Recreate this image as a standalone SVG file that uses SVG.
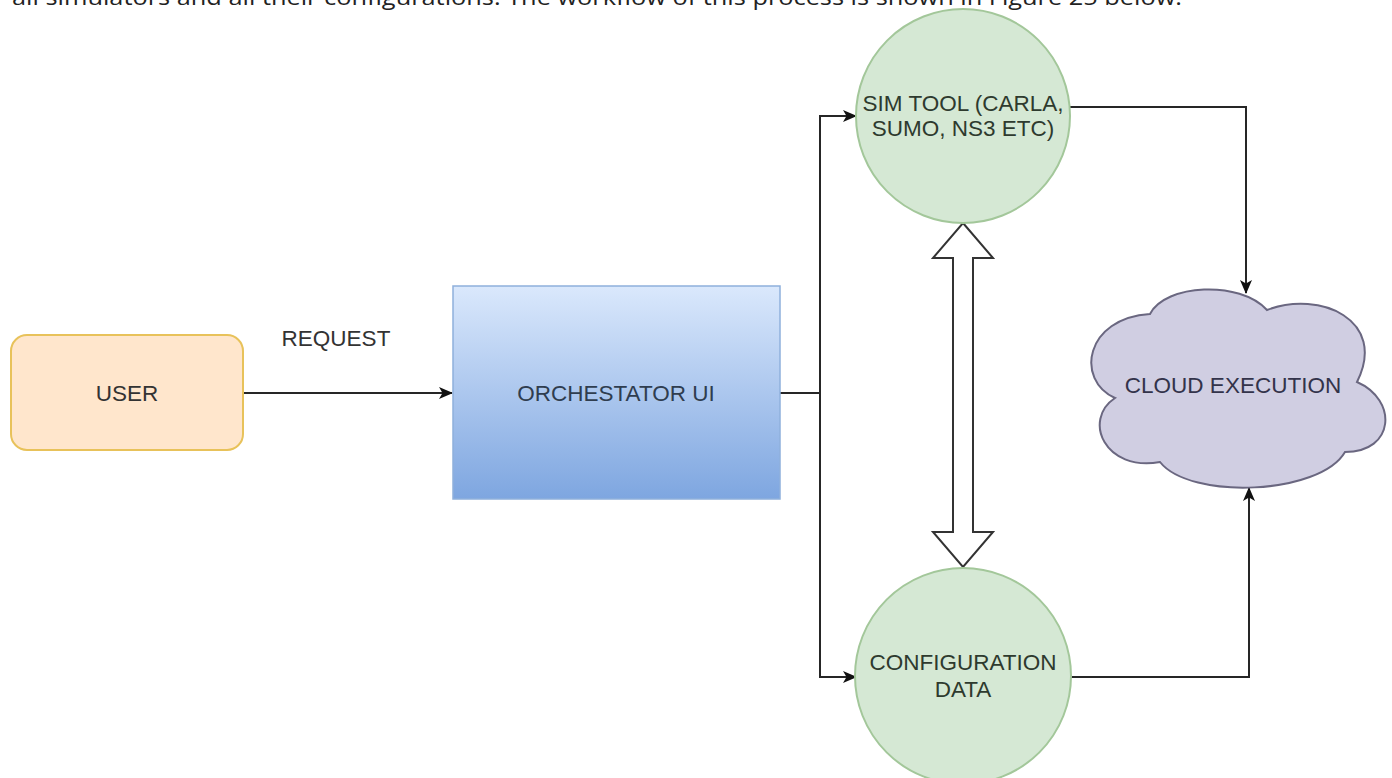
<svg xmlns="http://www.w3.org/2000/svg" width="1392" height="778" viewBox="0 0 1392 778">
  <style>
    .lbl { font-family: "Liberation Sans", Arial, Helvetica, sans-serif; font-size: 22.5px; fill: #333333; text-anchor: middle; }
    .para { font-family: "Open Sans", "Liberation Sans", sans-serif; font-size: 21px; fill: #222222; }
    .edge { fill: none; stroke: #262626; stroke-width: 2; }
    .circle { fill: #d5e8d4; stroke: #a3c79a; stroke-width: 2; }
  </style>
  <defs>
    <linearGradient id="blueFill" x1="0" y1="0" x2="0" y2="1">
      <stop offset="0" stop-color="#dae8fc"/>
      <stop offset="1" stop-color="#7ea6e0"/>
    </linearGradient>
    <marker id="arrow" viewBox="0 0 14 12" refX="13" refY="6" markerWidth="14" markerHeight="12" markerUnits="userSpaceOnUse" orient="auto">
      <path d="M0,0 L14,6 L0,12 L3.5,6 Z" fill="#111111"/>
    </marker>
  </defs>

  <rect width="1392" height="778" fill="#ffffff"/>

  <!-- paragraph line running off the top edge -->
  <text class="para" x="12" y="5" textLength="1170" lengthAdjust="spacingAndGlyphs">all simulators and all their configurations. The workflow of this process is shown in Figure 25 below.</text>

  <!-- connectors -->
  <g id="connectors">
    <path class="edge" d="M243,393 L452,393" marker-end="url(#arrow)"/>
    <path class="edge" d="M780,393 L820,393"/>
    <path class="edge" d="M820,393 L820,116 L856,116" marker-end="url(#arrow)"/>
    <path class="edge" d="M820,393 L820,677 L856,677" marker-end="url(#arrow)"/>
    <path class="edge" d="M1070,107 L1246,107 L1246,293" marker-end="url(#arrow)"/>
    <path class="edge" d="M1070,677 L1249,677 L1249,488" marker-end="url(#arrow)"/>
    <!-- two-way flex arrow between simulator and configuration -->
    <polygon points="963,223 993,258 973,258 973,532 993,532 963,567 933,532 953,532 953,258 933,258" fill="#ffffff" stroke="#333333" stroke-width="2" stroke-linejoin="miter"/>
    <text class="lbl" x="336" y="346">REQUEST</text>
  </g>

  <g id="user">
    <rect x="11" y="335" width="232" height="115" rx="16" ry="16" fill="#ffe6cc" stroke="#e8c25a" stroke-width="2"/>
    <text class="lbl" x="127" y="401">USER</text>
  </g>

  <g id="orchestrator">
    <rect x="453" y="286" width="327" height="213" fill="url(#blueFill)" stroke="#8fb0dc" stroke-width="1.5"/>
    <text class="lbl" x="616" y="401" style="fill:#2f3d4f">ORCHESTATOR UI</text>
  </g>

  <g id="sim-tool">
    <circle class="circle" cx="963" cy="116" r="107"/>
    <text class="lbl" x="963" y="111" style="fill:#2e3a2e">SIM TOOL (CARLA,</text>
    <text class="lbl" x="963" y="136" style="fill:#2e3a2e">SUMO, NS3 ETC)</text>
  </g>

  <g id="configuration-data">
    <circle class="circle" cx="963" cy="676" r="108"/>
    <text class="lbl" x="963" y="670" style="fill:#2e3a2e">CONFIGURATION</text>
    <text class="lbl" x="963" y="697" style="fill:#2e3a2e">DATA</text>
  </g>

  <g id="cloud-execution">
    <path d="M1150,314 C1165,284 1240,280 1267,310 C1320,290 1388,320 1357,382 C1398,400 1395,452 1345,452 C1320,495 1190,500 1160,462 C1105,472 1082,420 1115,398 C1075,380 1085,318 1150,314 Z" fill="#d0cee2" stroke="#6a6780" stroke-width="2"/>
    <text class="lbl" x="1233" y="393" style="fill:#33334a">CLOUD EXECUTION</text>
  </g>
</svg>
